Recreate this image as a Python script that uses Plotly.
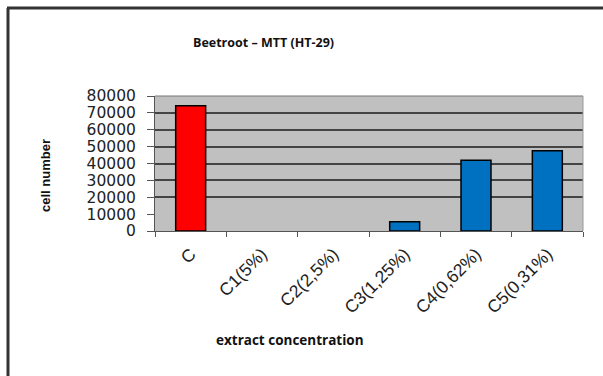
import plotly.graph_objects as go

categories = ["C", "C1(5%)", "C2(2,5%)", "C3(1,25%)", "C4(0,62%)", "C5(0,31%)"]
cell_number = [74200, 0, 0, 5500, 42000, 47600]
bar_colors = ["#ff0000", "#0070c0", "#0070c0", "#0070c0", "#0070c0", "#0070c0"]
y_ticks = [0, 10000, 20000, 30000, 40000, 50000, 60000, 70000, 80000]
grid_vals = [20000, 30000, 40000, 50000, 60000, 70000]

outline_widths = [1.5 if v > 0 else 0 for v in cell_number]

fig = go.Figure()
fig.add_trace(go.Bar(
    x=categories, y=cell_number,
    marker=dict(color=bar_colors, line=dict(color="#000000", width=outline_widths)),
    width=0.42,
))
# invisible trace on second y-axis to carry the gridlines
fig.add_trace(go.Scatter(x=categories, y=[None]*len(categories), yaxis="y2",
                         showlegend=False, hoverinfo="skip"))

def px(xp):
    return (xp - 155) / 428

def py(yp):
    return (231 - yp) / 135

fig.update_layout(
    width=603, height=376,
    margin=dict(l=155, r=20, t=96, b=145),
    paper_bgcolor="#ffffff",
    plot_bgcolor="#c0c0c0",
    showlegend=False,
    font=dict(family="Liberation Sans, Arial", color="#111111"),
    xaxis=dict(
        type="category", tickson="boundaries",
        ticks="outside", ticklen=5, tickcolor="#555555",
        showline=True, linecolor="#555555", linewidth=1,
        showgrid=False, tickangle=-45,
        tickfont=dict(size=17.5, color="#222222", family="Liberation Sans, Arial"),
        ticklabelstandoff=5,
    ),
    yaxis=dict(
        range=[0, 80000], tickvals=y_ticks, ticktext=[str(v) for v in y_ticks],
        ticks="outside", ticklen=7, tickcolor="#555555",
        showline=True, linecolor="#555555", linewidth=1,
        showgrid=False, zeroline=False,
        tickfont=dict(size=15.5, color="#222222", family="DejaVu Sans"),
        ticklabelstandoff=8,
    ),
    yaxis2=dict(
        range=[0, 80000], overlaying="y", side="right",
        tickvals=grid_vals, showticklabels=False,
        showgrid=True, gridcolor="#444444", gridwidth=1.5, zeroline=False,
    ),
    shapes=[
        dict(type="line", xref="paper", yref="paper", x0=0, x1=1, y0=1, y1=1,
             line=dict(color="#777777", width=1)),
        dict(type="line", xref="paper", yref="paper", x0=1, x1=1, y0=0, y1=1,
             line=dict(color="#999999", width=1)),
    ],
    annotations=[
        dict(text="<b>Beetroot – MTT (HT-29)</b>", xref="paper", yref="paper",
             x=px(263), y=py(42), showarrow=False,
             font=dict(size=12.5, family="Open Sans, Liberation Sans"), xanchor="center", yanchor="middle"),
        dict(text="<b>extract concentration</b>", xref="paper", yref="paper",
             x=px(290), y=py(340), showarrow=False,
             font=dict(size=13.5, family="Open Sans, Liberation Sans"), xanchor="center", yanchor="middle"),
        dict(text="<b>cell number</b>", xref="paper", yref="paper",
             x=px(45), y=py(176), showarrow=False, textangle=-90,
             font=dict(size=13, family="Liberation Sans, Arial"), xanchor="center", yanchor="middle"),
    ],
)

# outer frame (top and left dark border, as in the scanned figure)
fig.add_shape(type="line", xref="paper", yref="paper",
              x0=px(7), x1=px(603), y0=py(8), y1=py(8),
              line=dict(color="#333333", width=3))
fig.add_shape(type="line", xref="paper", yref="paper",
              x0=px(8), x1=px(8), y0=py(8), y1=py(376),
              line=dict(color="#333333", width=3))

fig.write_html("out.html")
